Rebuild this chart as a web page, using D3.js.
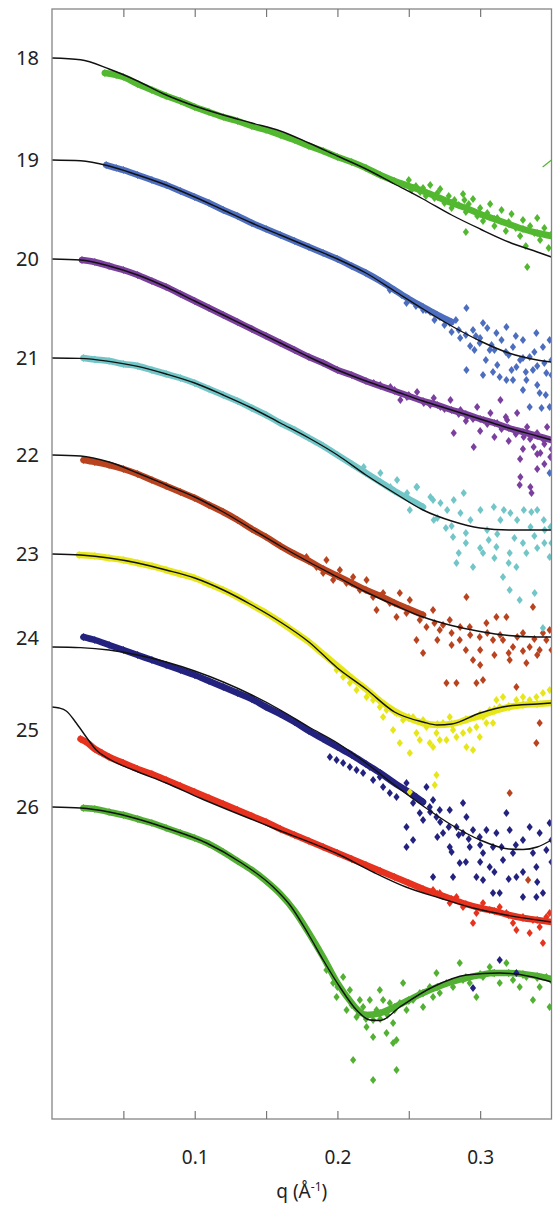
<!DOCTYPE html>
<html><head><meta charset="utf-8">
<script src="https://cdn.jsdelivr.net/npm/d3@7"></script>
<style>body{margin:0;background:#fff}svg{display:block}text{font-family:"Noto Sans","Open Sans",sans-serif;fill:#222}</style>
</head><body>
<script>
// ---- data ----
const curveLabels = ["18","19","20","21","22","23","24","25","26"];
const levels = [49,151,250,349,446,545,638,698,798];      // curve offsets (arb. log units)
const labelPos = [49,151,250,349,446,545,629,721,798];
const colors = ["#52b830","#4d6ebf","#7b3f9e","#72c6c8","#b9431f","#e6e619","#23237f","#e6321e","#52b032"];
const xTicks = [0.05,0.1,0.15,0.2,0.25,0.3];
const xTickLabels = [0.1,0.2,0.3];

const fit18 = [[0,0],[.02,1.7],[.04,11],[.06,23],[.08,37],[.10,48],[.12,57],[.14,65],[.16,73],[.18,85],[.20,98],[.22,111],[.24,126],[.26,141],[.28,157],[.30,171],[.32,184],[.34,194],[.35,199]];
const fit19 = [[0,0],[.02,.7],[.04,6],[.06,15],[.08,25],[.10,37],[.12,50],[.14,63],[.16,75],[.18,87],[.20,99],[.22,113],[.24,131],[.26,149],[.28,166],[.30,181],[.32,193],[.34,200],[.35,202]];
const fit20 = [[0,0],[.02,1],[.04,7],[.06,16],[.08,28],[.10,42],[.12,56],[.14,70],[.16,84],[.18,98],[.20,111],[.22,122],[.24,132],[.26,142],[.28,151],[.30,160],[.32,169],[.34,177],[.35,181]];
const fit21 = [[0,0],[.02,.4],[.04,3.4],[.06,8.4],[.08,16],[.10,25],[.12,37],[.14,50],[.16,65],[.18,80],[.20,97],[.22,117],[.24,135],[.26,152],[.28,163],[.30,170],[.32,172],[.34,172],[.35,172]];
const fit22 = [[0,0],[.02,1],[.04,7],[.06,18],[.08,30],[.10,42],[.12,57],[.14,74],[.16,91],[.18,107],[.20,122],[.22,137],[.24,150],[.26,162],[.28,170.5],[.30,176.5],[.32,180.5],[.34,182],[.35,182]];
const fit23 = [[0,0],[.02,1],[.04,4],[.06,9],[.08,16],[.10,24],[.12,36],[.14,51],[.16,68],[.18,88],[.20,114],[.22,135],[.24,158],[.26,168],[.27,171],[.28,170],[.30,159],[.32,152],[.34,150],[.35,149]];
const fit24 = [[0,0],[.02,.6],[.04,3],[.06,8],[.08,15],[.10,24],[.12,35],[.14,48],[.16,63],[.18,80],[.20,96],[.22,116],[.24,138],[.26,159],[.28,178],[.30,193],[.32,202],[.33,202.5],[.34,200],[.35,193]];
const fit25 = [[0,0],[.005,1],[.01,4],[.017,16],[.024,30],[.031,43],[.04,52],[.057,63],[.08,76],[.1036,91],[.155,121],[.2017,148],[.225,165],[.248,180],[.2717,191],[.295,201],[.318,208],[.35,215]];
const fit26 = [[0,0],[.02,1],[.04,5],[.06,12],[.08,21],[.1083,36],[.1317,55],[.155,80],[.1667,98],[.18,128],[.19,153],[.2017,180],[.2134,203],[.2227,213],[.23,213.5],[.2437,200],[.2668,180],[.2904,168],[.3137,166],[.3368,170],[.35,175]];

const band18 = [[.037,15],[.045,17],[.05,19],[.06,26],[.07,32],[.08,38],[.09,43],[.10,49],[.11,54],[.12,59],[.13,63],[.14,68],[.15,72],[.16,77],[.17,82],[.18,88],[.19,93],[.20,99],[.21,104],[.22,110],[.23,117],[.24,123],[.25,128],[.26,133],[.27,139],[.28,145],[.29,150],[.30,156],[.31,161],[.32,166],[.33,171],[.34,175],[.35,178]];
const band19 = [[.038,5],[.045,8],[.05,10],[.06,15],[.07,20],[.08,25],[.09,31],[.10,37],[.11,43],[.12,50],[.13,56],[.14,63],[.15,69],[.16,75],[.17,81],[.18,87],[.19,93],[.20,99],[.21,106],[.22,113],[.23,121],[.24,130],[.25,139],[.26,147],[.27,155],[.28,162]];
const band20 = [[.021,1],[.03,3],[.04,7],[.05,11],[.06,16],[.07,22],[.08,28],[.09,35],[.10,42],[.11,49],[.12,56],[.13,63],[.14,70],[.15,77],[.16,84],[.17,91],[.18,98],[.19,104],[.20,111],[.21,116],[.22,122],[.23,127],[.24,132],[.25,137],[.26,142],[.27,146],[.28,151],[.29,155],[.30,160],[.31,164],[.32,169],[.33,173],[.34,177],[.35,181]];
const band21 = [[.022,0],[.03,1.5],[.04,3],[.05,6],[.06,8],[.07,12],[.08,16],[.09,20],[.10,25],[.11,31],[.12,37],[.13,43],[.14,50],[.15,57],[.16,65],[.17,72],[.18,80],[.19,88],[.20,97],[.21,106],[.22,115],[.23,124],[.24,133],[.25,141],[.26,149]];
const band22 = [[.022,5],[.03,7],[.04,10],[.05,14],[.06,19],[.07,25],[.08,31],[.09,37],[.10,43],[.11,50],[.12,57],[.13,65],[.14,74],[.15,82],[.16,91],[.17,99],[.18,106],[.19,114],[.20,121],[.21,128],[.22,135],[.23,141],[.24,148],[.25,154],[.26,160]];
const band23 = [[.019,1],[.03,2],[.04,4],[.05,6],[.06,9],[.07,12],[.08,16],[.09,20],[.10,24],[.11,30],[.12,36],[.13,43],[.14,51],[.15,59],[.16,68],[.17,78],[.18,88],[.19,100],[.20,112],[.21,124],[.22,135],[.23,147],[.24,157],[.25,164],[.26,169],[.27,171],[.28,170],[.29,166],[.30,162],[.31,157],[.32,153],[.33,151],[.34,150],[.35,149]];
const band24 = [[.022,-10],[.03,-7],[.04,-2],[.05,3],[.06,8],[.07,13],[.08,18],[.09,23],[.10,28],[.11,34],[.12,40],[.13,46],[.14,52],[.15,60],[.16,67],[.17,75],[.18,84],[.19,92],[.20,100],[.21,108],[.22,117],[.23,126],[.24,136],[.25,145],[.26,155]];
const band25 = [[.02,32],[.025,36],[.03,42],[.035,46],[.04,50],[.05,56],[.06,62],[.07,67],[.08,73],[.09,79],[.10,85],[.11,91],[.12,97],[.13,103],[.14,109],[.15,115],[.16,122],[.17,128],[.18,134],[.19,140],[.20,146],[.21,152],[.22,158],[.23,164],[.24,170],[.25,176],[.26,182],[.27,187],[.28,192],[.29,197],[.30,201],[.31,204],[.32,208],[.33,211],[.34,213],[.35,215]];
const band26 = [[.022,1],[.03,2],[.04,5],[.05,8],[.06,12],[.07,16],[.08,21],[.09,26],[.10,31],[.11,37],[.12,45],[.13,54],[.14,63],[.15,74],[.16,87],[.17,104],[.18,126],[.19,150],[.20,176],[.21,196],[.215,204],[.22,208],[.23,206],[.24,200],[.25,193],[.26,186],[.27,180],[.28,175],[.29,171],[.30,168],[.31,166],[.32,166],[.33,167],[.34,169],[.35,172]];

const scatter18 = [[.245,126],[.25,122],[.252,132],[.255,128],[.258,134],[.26,130],[.262,138],[.265,127],[.268,140],[.27,135],[.272,131],[.275,145],[.278,138],[.28,150],[.282,142],[.285,147],[.288,136],[.289,142],[.29,154],[.29,174],[.292,146],[.295,141],[.298,158],[.30,150],[.302,163],[.305,155],[.307,146],[.31,168],[.312,160],[.315,152],[.318,173],[.32,164],[.322,156],[.325,170],[.328,178],[.33,162],[.332,188],[.333,209],[.335,168],[.338,175],[.34,160],[.342,182],[.345,170],[.348,190],[.35,176]];
const scatter19 = [[.2367,130],[.245,135],[.2484,143],[.25,140],[.255,146],[.26,150],[.262,150],[.268,160],[.2717,157],[.275,165],[.2787,163],[.285,170],[.29,175],[.2904,148],[.2904,210],[.295,170],[.2997,183],[.30,178],[.302,163],[.302,215],[.305,168],[.3067,190],[.309,212],[.31,190],[.3114,173],[.3137,217],[.315,180],[.3184,167],[.3184,220],[.32,195],[.323,187],[.323,220],[.325,176],[.3254,207],[.33,180],[.33,198],[.33,230],[.3324,220],[.3347,197],[.3347,247],[.337,210],[.338,192],[.3394,173],[.3417,233],[.343,248],[.344,187],[.345,203],[.3464,213],[.3487,247],[.3487,180],[.35,200],[.3487,313],[.286,178],[.293,186],[.297,176],[.308,185],[.318,192],[.328,200],[.34,206],[.265,152],[.28,172],[.283,160],[.296,190],[.304,200],[.312,205],[.322,210],[.332,212],[.34,225],[.346,235],[.35,215]];
const scatter20 = [[.2254,124],[.23,126],[.2371,128],[.24,131],[.2441,141],[.2487,138],[.25,136],[.2558,133],[.2605,144],[.265,146],[.2675,139],[.2721,148],[.275,150],[.2792,141],[.2815,174],[.285,155],[.2862,151],[.2908,158],[.295,160],[.2955,188],[.2979,148],[.3025,161],[.305,165],[.3072,154],[.3119,164],[.3142,141],[.315,170],[.3189,161],[.3235,171],[.325,175],[.3259,154],[.3277,226],[.3282,218],[.3305,178],[.3329,168],[.335,180],[.3352,228],[.336,234],[.3375,188],[.3399,174],[.3422,194],[.3445,181],[.345,185],[.3469,168],[.3492,198],[.29,162],[.30,172],[.31,178],[.32,182],[.33,190],[.34,195],[.345,205],[.35,190],[.318,158],[.328,200],[.34,210]];
const scatter21 = [[.2184,109],[.2301,115],[.2371,129],[.2418,122],[.2488,135],[.2507,152],[.2554,129],[.2558,129],[.2652,139],[.267,142],[.2675,162],[.2722,145],[.2769,152],[.281,179],[.2815,142],[.2834,205],[.2862,155],[.2885,135],[.2932,162],[.295,209],[.3002,152],[.302,195],[.3049,172],[.3096,149],[.3114,189],[.3142,162],[.316,219],[.3166,152],[.3207,195],[.3207,232],[.3212,155],[.3254,209],[.3259,162],[.3277,242],[.3306,152],[.3324,195],[.3353,169],[.3359,154],[.3382,235],[.34,152],[.344,270],[.3446,162],[.3452,172],[.3487,199],[.3493,169],[.276,170],[.29,175],[.306,182],[.312,176],[.324,180],[.338,178],[.345,185],[.27,160],[.28,168],[.29,185],[.30,190],[.31,200],[.32,205],[.33,185],[.34,190],[.35,185],[.285,195]];
const scatter22 = [[.1783,102],[.1853,112],[.19,118],[.1923,105],[.197,125],[.2017,115],[.2063,128],[.211,122],[.2157,135],[.2204,125],[.225,142],[.2274,155],[.232,138],[.2367,148],[.2414,162],[.2437,138],[.2484,158],[.2507,145],[.2554,185],[.2577,165],[.26,198],[.2624,172],[.267,155],[.2717,175],[.2764,228],[.2787,165],[.2834,228],[.2857,185],[.2904,142],[.2927,172],[.295,205],[.2974,228],[.2997,182],[.302,225],[.3044,168],[.309,185],[.3114,162],[.316,185],[.3184,162],[.3207,205],[.3207,338],[.323,192],[.3254,232],[.33,178],[.3324,208],[.3336,425],[.3347,192],[.337,152],[.3394,288],[.3417,195],[.3417,268],[.3464,185],[.3487,175],[.268,168],[.274,170],[.28,178],[.286,172],[.293,180],[.305,178],[.314,180],[.326,182],[.338,184],[.344,178],[.27,185],[.28,190],[.29,195],[.30,195],[.31,200],[.32,198],[.33,196],[.34,200],[.35,195],[.30,210]];
const scatter23 = [[.1994,116],[.20,112],[.204,123],[.2087,129],[.21,125],[.2134,136],[.218,133],[.22,135],[.2204,143],[.225,146],[.2297,153],[.23,148],[.232,163],[.2344,156],[.239,176],[.24,158],[.2414,159],[.2437,189],[.246,166],[.25,163],[.2507,199],[.2507,238],[.253,163],[.2554,179],[.2577,186],[.26,166],[.26,168],[.2624,173],[.2647,189],[.267,193],[.2682,231],[.2694,179],[.2694,221],[.27,170],[.2717,186],[.274,169],[.2764,186],[.2787,163],[.28,170],[.281,176],[.2834,183],[.288,179],[.29,165],[.2904,193],[.2927,176],[.295,196],[.2974,173],[.2997,183],[.30,160],[.302,163],[.3044,169],[.3067,156],[.309,169],[.31,155],[.3114,146],[.3137,153],[.316,143],[.32,152],[.3207,153],[.3254,146],[.33,143],[.33,150],[.3347,146],[.3394,143],[.34,150],[.344,139],[.3487,136],[.35,149]];
const scatter24 = [[.1947,110],[.1994,113],[.204,116],[.2087,120],[.2134,123],[.218,126],[.2227,120],[.225,133],[.2297,130],[.232,140],[.2367,146],[.2414,150],[.2484,136],[.2484,180],[.2484,200],[.253,156],[.253,193],[.2554,150],[.2577,166],[.26,173],[.2624,140],[.2647,160],[.267,153],[.267,230],[.2694,170],[.2717,163],[.274,186],[.2787,163],[.2787,200],[.281,230],[.2834,180],[.2857,216],[.288,156],[.288,186],[.2904,170],[.2927,200],[.295,183],[.295,341],[.2974,230],[.2997,190],[.302,206],[.302,233],[.3044,183],[.3067,220],[.309,200],[.309,246],[.3114,186],[.3137,246],[.3137,313],[.316,213],[.3184,166],[.3207,183],[.323,206],[.3254,230],[.3254,326],[.33,193],[.33,250],[.3347,180],[.337,206],[.3394,220],[.3394,250],[.3417,186],[.344,246],[.3464,203],[.3487,176],[.35,193],[.265,165],[.272,175],[.278,180],[.285,188],[.292,192],[.30,198],[.315,200],[.325,198],[.27,190],[.28,205],[.29,215],[.30,215],[.31,225],[.32,232],[.33,225],[.34,235],[.35,215]];
const scatter25 = [[.267,183],[.2717,186],[.2787,196],[.2834,190],[.288,200],[.295,216],[.2974,206],[.302,196],[.3067,203],[.3137,200],[.3184,206],[.323,216],[.3254,223],[.33,210],[.3347,226],[.337,213],[.3417,220],[.344,236],[.3464,210],[.3487,206]];
const scatter26 = [[.1923,163],[.197,176],[.1994,190],[.20,180],[.204,170],[.2064,203],[.2087,183],[.21,198],[.211,253],[.2134,210],[.215,206],[.2157,193],[.218,200],[.22,212],[.2204,220],[.2227,193],[.225,213],[.225,230],[.225,273],[.2274,203],[.2297,183],[.23,212],[.232,193],[.2344,206],[.2344,226],[.235,208],[.2367,196],[.239,216],[.239,236],[.24,203],[.2414,233],[.2414,263],[.2437,196],[.246,176],[.2484,203],[.25,194],[.253,193],[.2577,186],[.26,200],[.26,186],[.2647,180],[.267,190],[.2694,166],[.27,180],[.2717,186],[.2764,176],[.28,175],[.281,180],[.2857,156],[.288,173],[.29,170],[.2927,176],[.2974,190],[.30,167],[.302,170],[.3067,160],[.309,166],[.31,166],[.3137,176],[.3184,156],[.32,166],[.323,173],[.3277,180],[.33,168],[.3324,170],[.337,193],[.34,171],[.3417,180],[.3464,170],[.3487,200],[.35,174]];
const stray18 = [[.3438,109],[.35,102]];

const fits = [fit18,fit19,fit20,fit21,fit22,fit23,fit24,fit25,fit26];
const bands = [band18,band19,band20,band21,band22,band23,band24,band25,band26];
const scatters = [scatter18,scatter19,scatter20,scatter21,scatter22,scatter23,scatter24,scatter25,scatter26];

// ---- chart ----
(function(){
const W = 553, H = 1211;
const mLeft = 52, mRight = 551.5, mTop = 9, mBottom = 1119;
const x = d3.scaleLinear().domain([0, 0.35]).range([mLeft, mRight]);
const y = d3.scaleLinear().domain([0, 1110]).range([mTop, mBottom]);

const svg = d3.select("body").append("svg").attr("width", W).attr("height", H);
const defs = svg.append("defs");
defs.append("clipPath").attr("id","clip").append("rect")
  .attr("x", mLeft).attr("y", mTop).attr("width", mRight-mLeft).attr("height", mBottom-mTop);

const plot = svg.append("g").attr("clip-path","url(#clip)");
const diamond = "M0,-4L3.1,0L0,4L-3.1,0Z";

for (let i = fits.length - 1; i >= 0; i--) {
  const lvl = levels[i], col = colors[i];
  const g = plot.append("g");
  const ln = d3.line().x(d => x(d[0])).y(d => y(lvl + d[1])).curve(d3.curveMonotoneX);
  g.append("path").datum(bands[i]).attr("d", ln).attr("fill","none")
    .attr("stroke", col).attr("stroke-width", 6.5).attr("stroke-linecap","round").attr("stroke-linejoin","round");
  g.selectAll("path.b").data(bands[i]).join("path").attr("class","b").attr("d", diamond)
    .attr("transform", d => `translate(${x(d[0])},${y(lvl + d[1])})`).attr("fill", col);
  g.selectAll("path.s").data(scatters[i]).join("path").attr("class","s").attr("d", diamond)
    .attr("transform", d => `translate(${x(d[0])},${y(lvl + d[1])})`).attr("fill", col);
}
plot.append("path").datum(stray18)
  .attr("d", d3.line().x(d => x(d[0])).y(d => y(levels[0] + d[1])))
  .attr("stroke", colors[0]).attr("stroke-width", 1.2).attr("fill","none");

fits.forEach((f, i) => {
  const lvl = levels[i];
  plot.append("path").datum(f)
    .attr("d", d3.line().x(d => x(d[0])).y(d => y(lvl + d[1])).curve(d3.curveMonotoneX))
    .attr("fill","none").attr("stroke","#111").attr("stroke-width",1.4);
});

svg.append("rect").attr("x", mLeft).attr("y", mTop).attr("width", mRight-mLeft).attr("height", mBottom-mTop)
  .attr("fill","none").attr("stroke","#858585").attr("stroke-width",1.3);

const tb = svg.append("g").attr("transform",`translate(0,${mBottom})`)
  .call(d3.axisTop(x).tickValues(xTicks).tickSize(8).tickFormat(""));
const tt = svg.append("g").attr("transform",`translate(0,${mTop})`)
  .call(d3.axisBottom(x).tickValues(xTicks).tickSize(8).tickFormat(""));
[tb, tt].forEach(g => { g.select(".domain").remove(); g.selectAll("line").attr("stroke","#777").attr("stroke-width",1.2); });

const tl = svg.append("g").attr("transform",`translate(0,${mBottom})`)
  .call(d3.axisBottom(x).tickValues(xTickLabels).tickSize(0).tickPadding(32).tickFormat(d3.format(".1f")));
tl.select(".domain").remove();
tl.selectAll("text").attr("font-size",19).attr("fill","#222").attr("font-family",'"Noto Sans",sans-serif');

const t = svg.append("text").attr("x", (mLeft+mRight)/2).attr("y", 1198).attr("text-anchor","middle").attr("font-size",19);
t.append("tspan").text("q (Å");
t.append("tspan").attr("font-size",12).attr("dy",-7).text("-1");
t.append("tspan").attr("dy",7).text(")");

svg.selectAll("text.cl").data(curveLabels).join("text").attr("class","cl")
  .attr("x", 39).attr("y", (d,i) => y(labelPos[i]) + 7).attr("text-anchor","end")
  .attr("font-size",20).text(d => d);
})();
</script>
</body></html>
